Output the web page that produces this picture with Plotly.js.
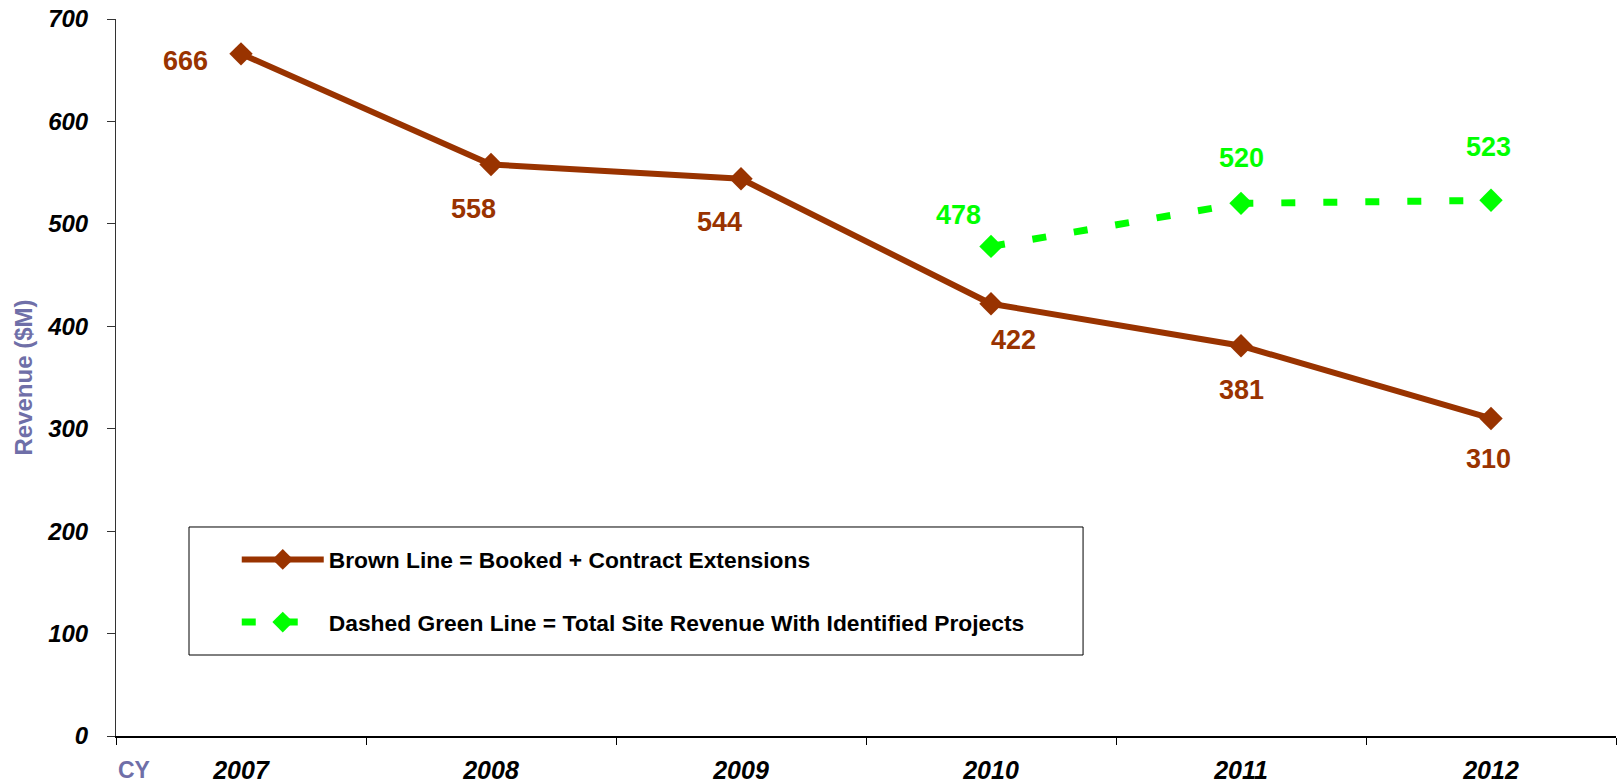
<!DOCTYPE html>
<html>
<head>
<meta charset="utf-8">
<script src="https://cdn.plot.ly/plotly-3.0.1.min.js"></script>
<style>html,body{margin:0;padding:0;background:#fff;}#chart{width:1617px;height:783px;}</style>
</head>
<body>
<div id="chart"></div>
<script>
// ---- data ----
const years = ['2007', '2008', '2009', '2010', '2011', '2012'];
const bookedRevenue = [666, 558, 544, 422, 381, 310];
const totalSiteRevenue = [null, null, null, 478, 520, 523];
const bookedName = 'Brown Line = Booked + Contract Extensions';
const totalName = 'Dashed Green Line = Total Site Revenue With Identified Projects';
const yTickValues = [0, 100, 200, 300, 400, 500, 600, 700];

// ---- styling / label placement (pixels) ----
const BROWN = '#993300';
const GREEN = '#00FF00';
const SLATE = '#6F6FA8';
const FONT = 'Arial, "Liberation Sans", sans-serif';
const bookedLabelShift = [[-56, -7], [-18, -45], [-22, -43], [22, -36], [0, -44], [-3, -41]];
const totalLabelShift = [null, null, null, [-33, 31], [0, 45], [-3, 53]];

const traces = [
  {
    x: years, y: bookedRevenue, name: bookedName, type: 'scatter', mode: 'lines+markers',
    line: {color: BROWN, width: 6},
    marker: {symbol: 'diamond', size: 18, color: BROWN},
    legendgroup: 'a', hoverinfo: 'x+y'
  },
  {
    x: years, y: totalSiteRevenue, name: totalName, type: 'scatter', mode: 'lines+markers',
    line: {color: GREEN, width: 7, dash: '14px,28px'},
    marker: {symbol: 'diamond', size: 18, color: GREEN},
    connectgaps: false, legendgroup: 'b', hoverinfo: 'x+y'
  }
];

// annotation x uses the category index (category axis)
const annotations = [];
years.forEach((yr, i) => {
  if (bookedRevenue[i] != null) {
    annotations.push({x: i, y: bookedRevenue[i], xref: 'x', yref: 'y', text: String(bookedRevenue[i]),
      showarrow: false, xshift: bookedLabelShift[i][0], yshift: bookedLabelShift[i][1],
      font: {family: FONT, size: 27, weight: 'bold', color: BROWN}});
  }
  if (totalSiteRevenue[i] != null) {
    annotations.push({x: i, y: totalSiteRevenue[i], xref: 'x', yref: 'y', text: String(totalSiteRevenue[i]),
      showarrow: false, xshift: totalLabelShift[i][0], yshift: totalLabelShift[i][1],
      font: {family: FONT, size: 27, weight: 'bold', color: GREEN}});
  }
});
annotations.push({xref: 'paper', yref: 'paper', x: 0.0, y: -0.048, xanchor: 'left', yanchor: 'middle',
  text: 'CY', showarrow: false, font: {family: FONT, size: 23, weight: 'bold', color: SLATE}});

const layout = {
  width: 1617, height: 783,
  margin: {l: 116, r: 1, t: 19, b: 47, pad: 0},
  paper_bgcolor: '#fff', plot_bgcolor: '#fff',
  showlegend: true,
  font: {family: FONT, color: '#000'},
  xaxis: {
    type: 'category', categoryorder: 'array', categoryarray: years,
    range: [-0.5, 5.5], tickson: 'boundaries',
    ticks: 'outside', ticklen: 7, tickcolor: '#000', tickwidth: 1,
    showline: true, linecolor: '#000', linewidth: 1.5, showgrid: false, zeroline: false,
    tickfont: {family: FONT, size: 25, weight: 'bold', style: 'italic', color: '#000'},
    ticklabelstandoff: 11, fixedrange: true
  },
  yaxis: {
    range: [0, 700], tickvals: yTickValues, ticks: 'outside', ticklen: 8, tickcolor: '#333', tickwidth: 1,
    showline: true, linecolor: '#333', linewidth: 1, showgrid: false, zeroline: false,
    tickfont: {family: FONT, size: 24, weight: 'bold', style: 'italic', color: '#000'},
    ticklabelstandoff: 14,
    title: {text: 'Revenue ($M)', standoff: 7, font: {family: FONT, size: 24, weight: 'bold', color: SLATE}},
    fixedrange: true
  },
  legend: {
    x: 0.0805, y: 0.276, xanchor: 'left', yanchor: 'top',
    bgcolor: 'rgba(0,0,0,0)', borderwidth: 0,
    itemwidth: 82, tracegroupgap: 30, traceorder: 'grouped',
    font: {family: FONT, size: 22.8, weight: 'bold', color: '#000'}
  },
  shapes: [{
    type: 'rect', xref: 'paper', yref: 'paper',
    x0: 0.04867, x1: 0.6447, y0: 0.11297, y1: 0.2915,
    line: {color: '#000', width: 1}, fillcolor: 'rgba(0,0,0,0)', layer: 'below'
  }],
  annotations: annotations
};

Plotly.newPlot('chart', traces, layout, {displayModeBar: false, staticPlot: true});
</script>
</body>
</html>
